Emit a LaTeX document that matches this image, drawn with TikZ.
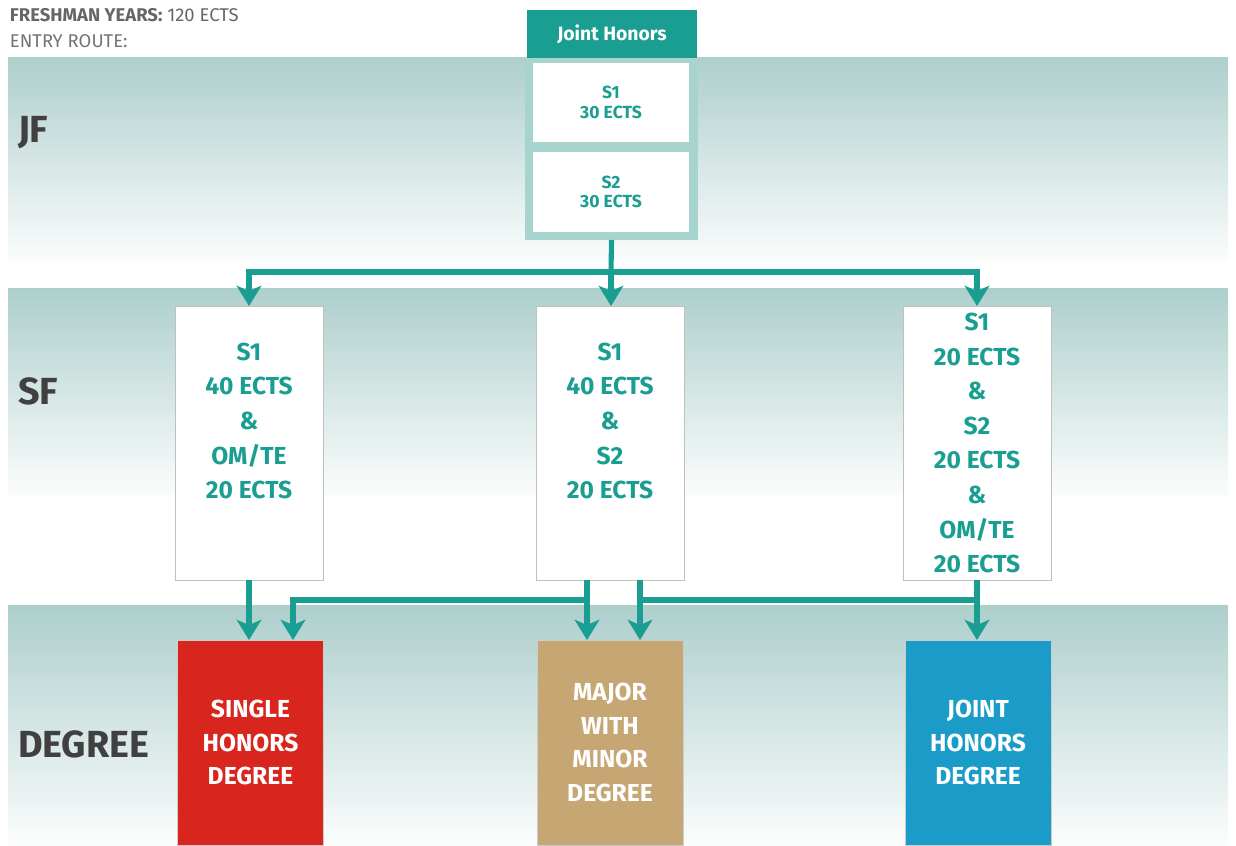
\documentclass[tikz,border=0pt]{standalone}
\usepackage{fontspec}
\setmainfont{Fira Sans}
\usetikzlibrary{arrows.meta,positioning}
\definecolor{honteal}{HTML}{1A9E92}
\definecolor{bandteal}{HTML}{ADCFCC}
\definecolor{frameteal}{HTML}{A8D4CF}
\definecolor{singlered}{HTML}{D8261F}
\definecolor{majortan}{HTML}{C6A774}
\definecolor{jointblue}{HTML}{1B9CC8}
\definecolor{labelgrey}{HTML}{404040}
\newcommand{\flowcolor}{honteal}
\tikzstyle{every node}=[inner sep=0, outer sep=0]
\tikzstyle{band}=[top color=bandteal, bottom color=white!95!bandteal, draw=none]
\tikzstyle{yearlabel}=[font=\fontsize{21.5}{24}\selectfont\bfseries, text=labelgrey, anchor=west]
\tikzstyle{sembox}=[fill=white, minimum width=3.12cm]
\tikzstyle{semtext}=[font=\fontsize{10}{11}\selectfont\bfseries, text=honteal, align=center]
\tikzstyle{sfbox}=[draw=gray!50, fill=white, minimum width=2.96cm, minimum height=5.48cm]
\tikzstyle{sftext}=[font=\fontsize{14}{19.7}\selectfont\bfseries, text=honteal, align=center]
\tikzstyle{degbox}=[draw=black!20, minimum width=2.92cm, minimum height=4.1cm, text=white, align=center, font=\fontsize{14}{19.3}\selectfont\bfseries]
\tikzstyle{flow}=[draw=\flowcolor, line width=2.9pt, -{Stealth[length=11.5pt, width=14pt, inset=3pt]}]

\begin{document}
\begin{tikzpicture}[x=0.02cm, y=-0.02cm]
    \useasboundingbox (0,0) rectangle (1236,845);
    % year bands
    \fill[band] (8,57) rectangle (1228,262);
    \fill[band] (8,288) rectangle (1228,495);
    \fill[band] (8,605) rectangle (1228,845);
    \node[anchor=base west, font=\fontsize{10.5}{11}\selectfont, text=black!60] (years) at (10,21) {\textbf{FRESHMAN YEARS:} 120 ECTS};
    \node[anchor=base west, font=\fontsize{10.5}{11}\selectfont, text=black!55] (route) at (10,47) {ENTRY ROUTE:};
    \node[yearlabel] (jf) at (18,133) {JF};
    \node[yearlabel] (sf) at (18,391) {SF};
    \node[yearlabel] (deg) at (18,744) {DEGREE};
    % joint honors entry route
    \node[fill=frameteal, minimum width=3.46cm, minimum height=3.64cm] (jfbox) at (611.5,149) {};
    \node[fill=honteal, minimum width=3.4cm, minimum height=0.96cm, text=white, font=\fontsize{11}{12}\selectfont\bfseries] (jh) at (612,34) {Joint Honors};
    \node[sembox, minimum height=1.58cm, semtext] (jfs1) at (611,102.5) {S1\\30 ECTS};
    \node[sembox, minimum height=1.6cm, semtext] (jfs2) at (611,192) {S2\\30 ECTS};
    % second year options
    \node[sfbox] (sf1) at (249,443) {};
    \node[sfbox] (sf2) at (610,443) {};
    \node[sfbox] (sf3) at (977,443) {};
    \node[sftext] (sf1text) at (249,421) {S1\\40 ECTS\\\&\\OM/TE\\20 ECTS};
    \node[sftext] (sf2text) at (610,421) {S1\\40 ECTS\\\&\\S2\\20 ECTS};
    \node[sftext] (sf3text) at (977,443) {S1\\20 ECTS\\\&\\S2\\20 ECTS\\\&\\OM/TE\\20 ECTS};
    % degrees
    \node[degbox, fill=singlered] (deg1) at (250.5,742.5) {SINGLE\\HONORS\\DEGREE};
    \node[degbox, fill=majortan] (deg2) at (610,742.5) {MAJOR\\WITH\\MINOR\\DEGREE};
    \node[degbox, fill=jointblue] (deg3) at (978,742.5) {JOINT\\HONORS\\DEGREE};
    % connectors
    \coordinate (split) at (611,272);
    \coordinate (toSingle) at (587,600);
    \coordinate (toMajor) at (640,600);
    \draw[flow, -] (jfbox.south) -- (split);
    \draw[flow] (split) -| (sf1.north);
    \draw[flow] (split) -- (split |- sf2.north);
    \draw[flow] (split) -| (sf3.north);
    \draw[flow] (sf1.south) -- (sf1.south |- deg1.north);
    \draw[flow] ([xshift=-0.46cm]sf2.south) -- ([xshift=-0.46cm]sf2.south |- deg2.north);
    \draw[flow] ([xshift=0.6cm]sf2.south) -- ([xshift=0.6cm]sf2.south |- deg2.north);
    \draw[flow] (sf3.south) -- (sf3.south |- deg3.north);
    \draw[flow] (toSingle) -| ([xshift=0.85cm]deg1.north);
    \draw[flow, -] (sf3.south |- toMajor) -- (toMajor);
\end{tikzpicture}
\end{document}
